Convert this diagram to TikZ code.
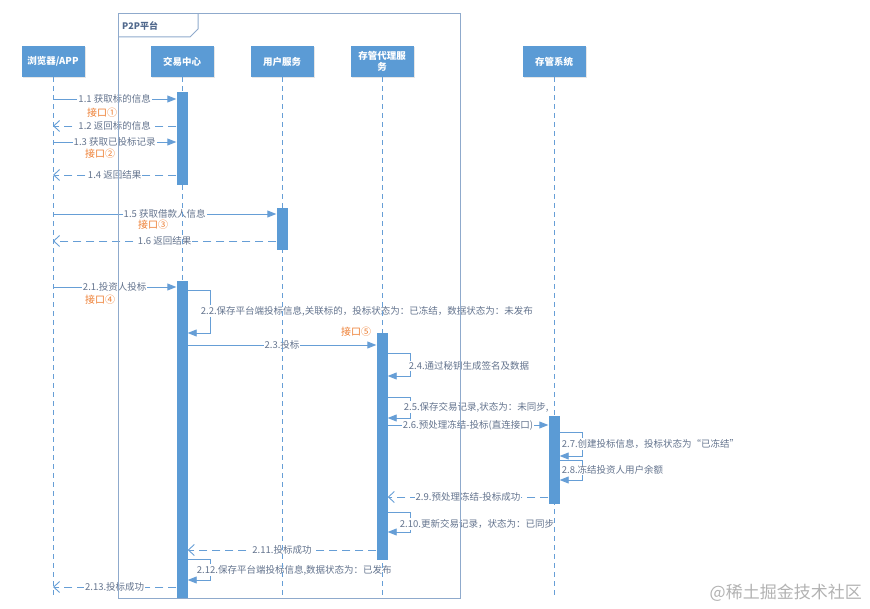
\documentclass[tikz,border=0pt]{standalone}
\usepackage{fontspec}
\setmainfont{Noto Sans CJK SC}
\usepackage{tikz}
\usetikzlibrary{arrows.meta,calc,positioning,shadows}

\definecolor{boxblue}{RGB}{91,155,213}
\definecolor{lineblue}{RGB}{102,158,214}
\definecolor{framec}{RGB}{143,170,204}
\definecolor{msgtext}{RGB}{100,116,142}
\definecolor{titletext}{RGB}{80,104,140}
\definecolor{portorange}{RGB}{237,125,49}
\definecolor{wmgray}{RGB}{178,178,178}

\newcommand\msgfont{\fontsize{9.5}{11}\selectfont}
\pgfdeclarelayer{msgs}
\pgfsetlayers{msgs,main}

\tikzset{
  actor/.style={rectangle,fill=boxblue,text=white,font=\bfseries\fontsize{9.5}{11}\selectfont,
    minimum width=63pt,minimum height=31pt,inner sep=1pt,align=center,
    drop shadow={opacity=0.2,shadow xshift=1.5pt,shadow yshift=-1.5pt}},
  life/.style={lineblue,line width=0.8pt,dash pattern=on 5pt off 4pt},
  frame/.style={framec,line width=1pt},
  frametitle/.style={text=titletext,font=\bfseries\fontsize{9}{10}\selectfont,inner sep=1pt},
  bar/.style={rectangle,fill=boxblue,minimum width=11pt,inner sep=0pt,anchor=north},
  call/.style={lineblue,line width=0.9pt,-{Triangle[length=9pt,width=7pt]}},
  reply/.style={lineblue,line width=0.9pt,dash pattern=on 8pt off 5pt,-{Straight Barb[length=6pt,width=11pt]}},
  msg/.style={fill=white,text=msgtext,inner sep=1pt,font=\msgfont},
  note/.style={fill=white,text=msgtext,inner sep=1pt,anchor=west,font=\msgfont},
  port/.style={text=portorange,inner sep=1pt,font=\fontsize{10}{11}\selectfont},
  watermark/.style={text=wmgray,inner sep=0pt,font=\fontsize{17}{18}\selectfont},
}

\begin{document}
\begin{tikzpicture}[x=1pt,y=-1pt]
  \useasboundingbox (0,0) rectangle (870,609);
  % platform frame
  \draw[frame] (118,14) rectangle (460,598);
  \draw[frame] (118,37) -- (190,37) -- (198,29) -- (198,14);
  \node[frametitle,anchor=west] (p2p) at (121,26) {P2P平台};
  % participants and lifelines
  \foreach \n/\x/\t in {app/53/{浏览器/APP},trade/182/交易中心,user/282/用户服务,proxy/382/{存管代理服\\务},bank/554/存管系统}{
    \node[actor] (\n) at (\x,61.5) {\t};
    \draw[life] (\n.south) -- (\n.south |- 0,598);
  }
  % activations
  \node[bar,minimum height=93pt] (bar1) at (182,92) {};
  \node[bar,minimum height=42pt] (ubar) at (282,208) {};
  \node[bar,minimum height=317pt] (bar2) at (182,281) {};
  \node[bar,minimum height=227pt] (pbar) at (382,333) {};
  \node[bar,minimum height=88pt] (bbar) at (554,416) {};
  % interface marks
  \node[port] (if1) at (102,113) {接口①};
  \node[port] (if2) at (100,154) {接口②};
  \node[port] (if3) at (153,225) {接口③};
  \node[port] (if4) at (100,300) {接口④};
  \node[port] (if5) at (356,332) {接口⑤};
  \begin{pgfonlayer}{msgs}
  % calls
  \foreach \a/\b/\y/\t in {app.center/bar1.west/99/{1.1 获取标的信息},app.center/bar1.west/142/{1.3 获取已投标记录},
      app.center/ubar.west/214/{1.5 获取借款人信息},app.center/bar2.west/287/{2.1.投资人投标},
      bar2.east/pbar.west/345/{2.3.投标},pbar.east/bbar.west/425/{2.6.预处理冻结-投标(直连接口)}}
    \draw[call] (\a |- 0,\y) -- (\b |- 0,\y) node[msg,midway] (c\y) {\t};
  % replies
  \foreach \a/\b/\y/\t in {bar1.west/app.center/126/{1.2 返回标的信息},bar1.west/app.center/175/{1.4 返回结果},
      ubar.west/app.center/241/{1.6 返回结果},bbar.west/pbar.east/497/{2.9.预处理冻结-投标成功},
      pbar.west/bar2.east/550/{2.11.投标成功},bar2.west/app.center/587/{2.13.投标成功}}
    \draw[reply] (\a |- 0,\y) -- (\b |- 0,\y) node[msg,midway] (r\y) {\t};
  % self calls
  \foreach \b/\t/\u/\dx/\ly/\txt in {bar2/290/333/12/311/{2.2.保存平台端投标信息,关联标的，投标状态为：已冻结，数据状态为：未发布},
      pbar/353/376/20/366/{2.4.通过秘钥生成签名及数据},pbar/397/418/15/407/{2.5.保存交易记录,状态为：未同步,},
      bbar/432/456/1/444/{2.7.创建投标信息，投标状态为“已冻结”},bbar/460/480/1/470/{2.8.冻结投资人用户余额},
      pbar/512/532/11/524/{2.10.更新交易记录，状态为：已同步},bar2/559/580/8/570/{2.12.保存平台端投标信息,数据状态为：已发布}}{
    \draw[call] (\b.east |- 0,\t) -- ++(23,0) |- (\b.east |- 0,\u);
    \node[note] (s\t) at ($(\b.east |- 0,\ly)+(\dx,0)$) {\txt};
  }
  \end{pgfonlayer}
  \node[watermark,anchor=east] (wm) at (862,593) {@稀土掘金技术社区};
\end{tikzpicture}
\end{document}
